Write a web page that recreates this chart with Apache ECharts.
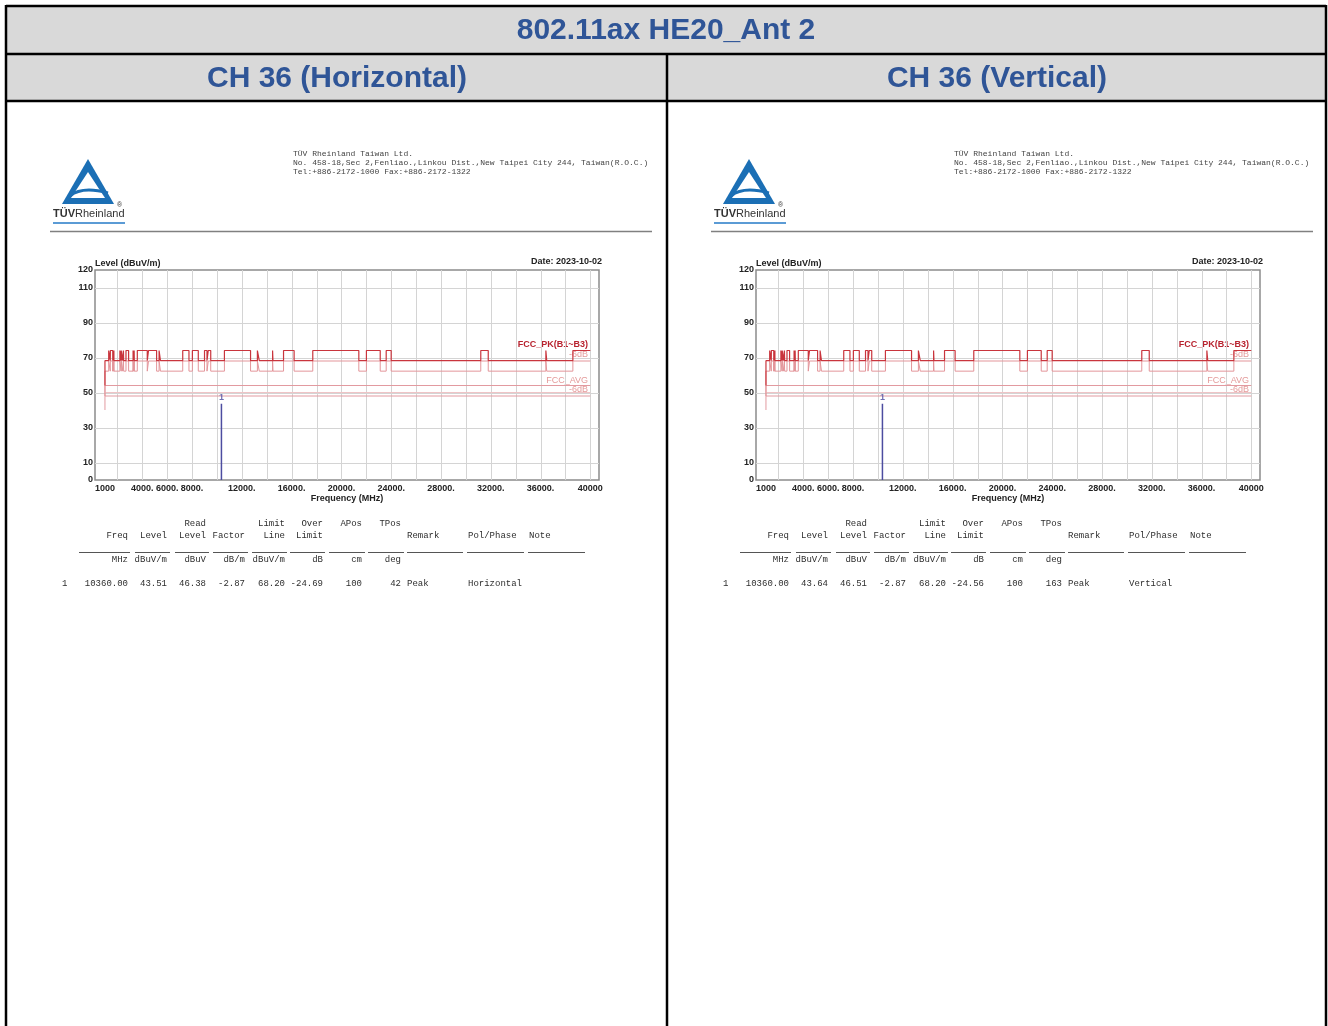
<!DOCTYPE html>
<html><head><meta charset="utf-8">
<script src="https://cdn.jsdelivr.net/npm/echarts@6/dist/echarts.min.js"></script>
<style>html,body{margin:0;padding:0;background:#fff}#c{width:1328px;height:1026px}</style>
</head><body><div id="c"></div>
<script>
// ---------------- data ----------------
const pageTitle = '802.11ax HE20_Ant 2';
const panelTitles = ['CH 36 (Horizontal)', 'CH 36 (Vertical)'];
const addressLines = [
  'TÜV Rheinland Taiwan Ltd.',
  'No. 458-18,Sec 2,Fenliao.,Linkou Dist.,New Taipei City 244, Taiwan(R.O.C.)',
  'Tel:+886-2172-1000 Fax:+886-2172-1322'
];
const chartDate = 'Date: 2023-10-02';
const yAxisTitle = 'Level (dBuV/m)';
const xAxisTitle = 'Frequency (MHz)';
const xTickLabels = [1000, 4000, 6000, 8000, 12000, 16000, 20000, 24000, 28000, 32000, 36000, 40000];
const xGridValues = [2000, 4000, 6000, 8000, 10000, 12000, 14000, 16000, 18000, 20000, 22000, 24000, 26000, 28000, 30000, 32000, 34000, 36000, 38000, 40000];
const yTickLabels = [0, 10, 30, 50, 70, 90, 110, 120];
const yGridValues = [10, 30, 50, 70, 90, 110];
// restricted bands (MHz) where the limit steps up
const restrictedBands = [[1300,1427],[1435,1626.5],[1645.5,1646.5],[1660,1710],[1718.8,1722.2],[2200,2300],[2310,2390],[2483.5,2500],[2690,2900],[3260,3267],[3332,3339],[3345.8,3358],[3600,4400],[4500,5150],[5350,5460],[7250,7750],[8025,8500],[9000,9200],[9300,9500],[10600,12700],[13250,13400],[14470,14500],[15350,16200],[17700,21400],[22010,23120],[23600,24000],[31200,31800],[36430,36500],[38600,40000]];
const pkLevels = [74, 68.2];      // [restricted, other]
const pk6Levels = [68, 62.2];
const startLevels = [54, 48, 40]; // PK, PK-6, AVG values just below 1 GHz
const avgLevels = [54, 50, 48];
const freqRange = [1000, 40000];
const limitLabels = ['FCC_PK(B1~B3)', '-6dB', 'FCC_AVG', '-6dB'];
const markerFreq = [10360, 10360];
const markerLevel = [43.51, 43.64];
const headRow1 = ['', '', 'Read', '', 'Limit', 'Over', 'APos', 'TPos'];
const headRow2 = ['Freq', 'Level', 'Level', 'Factor', 'Line', 'Limit', '', ''];
const headRow2Text = ['Remark', 'Pol/Phase', 'Note'];
const unitRow = ['MHz', 'dBuV/m', 'dBuV', 'dB/m', 'dBuV/m', 'dB', 'cm', 'deg'];
const rowIndex = '1';
const rowNumbers = [
  ['10360.00', '43.51', '46.38', '-2.87', '68.20', '-24.69', '100', '42'],
  ['10360.00', '43.64', '46.51', '-2.87', '68.20', '-24.56', '100', '163']
];
const rowTexts = [['Peak', 'Horizontal', ''], ['Peak', 'Vertical', '']];

// ---------------- layout ----------------
const panelDx = [0, 661];
const SANS = "'Liberation Sans', Arial, sans-serif";
const MONO = "'Liberation Mono', 'DejaVu Sans Mono', monospace";
const colRight = [128, 167, 206, 245, 285, 323, 362, 401];
const colLeft = [407, 468, 529];
const ruleSegs = [[79,130],[135,170],[175,209],[213,248],[252,287],[290,325],[329,365],[368,404],[407,463],[467,524],[528,585]];

function stepLine(levels, start) {
  const hi = levels[0], lo = levels[1];
  const pts = [[freqRange[0], start], [freqRange[0], lo]];
  restrictedBands.forEach(b => {
    pts.push([b[0], lo], [b[0], hi], [b[1], hi]);
    if (b[1] < freqRange[1]) pts.push([b[1], lo]);
  });
  return pts;
}

const graphics = [];
graphics.push({type: 'rect', shape: {x: 6, y: 6, width: 1320, height: 95}, style: {fill: '#d9d9d9'}});
[[6,6,1326,6],[6,54,1326,54],[6,101,1326,101],[6,5,6,1026],[1326,5,1326,1026],[667,54,667,1026]].forEach(l => {
  graphics.push({type: 'line', shape: {x1: l[0], y1: l[1], x2: l[2], y2: l[3]}, style: {stroke: '#000', lineWidth: 2.5}});
});
graphics.push({type: 'text', x: 666, y: 31, style: {text: pageTitle, font: 'bold 30px ' + SANS, fill: '#2f5597', align: 'center', verticalAlign: 'middle'}});
[337, 997].forEach((cx, i) => {
  graphics.push({type: 'text', x: cx, y: 79, style: {text: panelTitles[i], font: 'bold 30px ' + SANS, fill: '#2f5597', align: 'center', verticalAlign: 'middle'}});
});

function txt(x, y, t, font, fill, align) {
  graphics.push({type: 'text', x: x, y: y, style: {text: t, font: font, fill: fill, align: align || 'left', verticalAlign: 'middle'}});
}

panelDx.forEach((dx, p) => {
  // logo
  graphics.push({type: 'polygon', shape: {points: [[88+dx,159],[62+dx,204],[114+dx,204]]}, style: {fill: '#1b6fb5'}});
  graphics.push({type: 'polygon', shape: {points: [[88+dx,172],[71+dx,198],[105+dx,198]]}, style: {fill: '#fff'}});
  graphics.push({type: 'bezierCurve', shape: {x1: 70+dx, y1: 196, cpx1: 82+dx, cpy1: 186, x2: 108+dx, y2: 193}, style: {stroke: '#1b6fb5', lineWidth: 3, fill: null}});
  txt(53+dx, 214, 'TÜV', 'bold 11px ' + SANS, '#333');
  txt(75+dx, 214, 'Rheinland', '11px ' + SANS, '#333');
  txt(117+dx, 205, '®', '7px ' + SANS, '#333');
  graphics.push({type: 'line', shape: {x1: 53+dx, y1: 223, x2: 125+dx, y2: 223}, style: {stroke: '#5b9bd5', lineWidth: 2}});
  addressLines.forEach((t, i) => txt(293+dx, 154 + i*9, t, '8px ' + MONO, '#444'));
  graphics.push({type: 'line', shape: {x1: 50+dx, y1: 231.5, x2: 652+dx, y2: 231.5}, style: {stroke: '#808080', lineWidth: 1.5}});
  // chart texts
  txt(95+dx, 264, yAxisTitle, 'bold 9px ' + SANS, '#222');
  txt(602+dx, 262, chartDate, 'bold 9px ' + SANS, '#222', 'right');
  const lblY = [345, 355, 381, 390];
  const lblC = ['#b8232f', '#e49a9a', '#e49a9a', '#e49a9a'];
  limitLabels.forEach((t, i) => txt(588+dx, lblY[i], t, (i === 0 ? 'bold ' : '') + '9px ' + SANS, lblC[i], 'right'));
  // result table
  const F = '9px ' + MONO, C = '#2e2e2e';
  headRow1.forEach((t, i) => t && txt(colRight[i]+dx, 524, t, F, C, 'right'));
  headRow2.forEach((t, i) => t && txt(colRight[i]+dx, 536, t, F, C, 'right'));
  headRow2Text.forEach((t, i) => txt(colLeft[i]+dx, 536, t, F, C));
  ruleSegs.forEach(s => graphics.push({type: 'line', shape: {x1: s[0]+dx, y1: 552.5, x2: s[1]+dx, y2: 552.5}, style: {stroke: '#555', lineWidth: 1}}));
  unitRow.forEach((t, i) => txt(colRight[i]+dx, 560, t, F, C, 'right'));
  txt(62+dx, 584, rowIndex, F, C);
  rowNumbers[p].forEach((t, i) => txt(colRight[i]+dx, 584, t, F, C, 'right'));
  rowTexts[p].forEach((t, i) => t && txt(colLeft[i]+dx, 584, t, F, C));
});

const grids = [], xAxes = [], yAxes = [], series = [];
panelDx.forEach((dx, p) => {
  grids.push({left: 95 + dx, top: 270, width: 504, height: 210, show: true, borderColor: '#8c8c8c', borderWidth: 1.5, backgroundColor: '#fff'});
  xAxes.push({
    type: 'value', gridIndex: p, min: 200, max: 40700,
    axisLine: {show: false}, axisTick: {show: false}, splitLine: {show: false},
    axisLabel: {customValues: xTickLabels, fontSize: 9, fontWeight: 'bold', fontFamily: SANS, color: '#222', margin: 4,
      formatter: v => (v === freqRange[0] || v === freqRange[1]) ? String(v) : v + '.'},
    name: xAxisTitle, nameLocation: 'middle', nameGap: 14,
    nameTextStyle: {fontSize: 9, fontWeight: 'bold', fontFamily: SANS, color: '#222'}
  });
  yAxes.push({
    type: 'value', gridIndex: p, min: 0, max: 120,
    axisLine: {show: false}, axisTick: {show: false}, splitLine: {show: false},
    axisLabel: {customValues: yTickLabels, fontSize: 9, fontWeight: 'bold', fontFamily: SANS, color: '#222', margin: 2}
  });
  const ax = {xAxisIndex: p, yAxisIndex: p};
  series.push(Object.assign({
    type: 'custom', z: 1, silent: true, data: xGridValues.map(v => [v, 0]), encode: {x: 0, y: 1},
    renderItem: (params, api) => {
      const x = Math.round(api.coord([api.value(0), 0])[0]) + 0.5;
      const cs = params.coordSys;
      return {type: 'line', shape: {x1: x, y1: cs.y, x2: x, y2: cs.y + cs.height}, style: {stroke: '#d4d4d4', lineWidth: 1}};
    }
  }, ax));
  series.push(Object.assign({
    type: 'custom', z: 1, silent: true, data: yGridValues.map(v => [freqRange[0], v]), encode: {x: 0, y: 1},
    renderItem: (params, api) => {
      const y = Math.round(api.coord([freqRange[0], api.value(1)])[1]) + 0.5;
      const cs = params.coordSys;
      return {type: 'line', shape: {x1: cs.x, y1: y, x2: cs.x + cs.width, y2: y}, style: {stroke: '#d4d4d4', lineWidth: 1}};
    }
  }, ax));
  const avgColors = ['#e29aa0', '#efc4c6', '#e29aa0'];
  avgLevels.forEach((v, i) => {
    const d = i === 0 ? [[freqRange[0], startLevels[2]], [freqRange[0], v], [freqRange[1], v]] : [[freqRange[0], v], [freqRange[1], v]];
    series.push(Object.assign({type: 'line', z: 2, silent: true, symbol: 'none', data: d,
      lineStyle: {color: avgColors[i], width: 1}}, ax));
  });
  series.push(Object.assign({type: 'line', z: 3, silent: true, symbol: 'none', data: stepLine(pk6Levels, startLevels[1]),
    lineStyle: {color: '#e3959a', width: 1}}, ax));
  series.push(Object.assign({type: 'line', z: 4, silent: true, symbol: 'none', data: stepLine(pkLevels, startLevels[0]),
    lineStyle: {color: '#c9353d', width: 1.2}}, ax));
  series.push(Object.assign({type: 'line', z: 5, silent: true, symbol: 'none',
    data: [[markerFreq[p], 0], [markerFreq[p], markerLevel[p]]],
    lineStyle: {color: '#4d4da0', width: 1.5}}, ax));
  series.push(Object.assign({type: 'scatter', z: 6, silent: true, symbolSize: 1, itemStyle: {color: 'rgba(0,0,0,0)'},
    data: [[markerFreq[p], markerLevel[p]]],
    label: {show: true, position: 'top', distance: 1, formatter: rowIndex, fontSize: 9, fontWeight: 'bold', fontFamily: SANS, color: '#4d4da0'}}, ax));
});

const chart = echarts.init(document.getElementById('c'));
chart.setOption({
  animation: false,
  backgroundColor: '#fff',
  grid: grids, xAxis: xAxes, yAxis: yAxes, series: series,
  graphic: {elements: graphics}
});
</script>
</body></html>
